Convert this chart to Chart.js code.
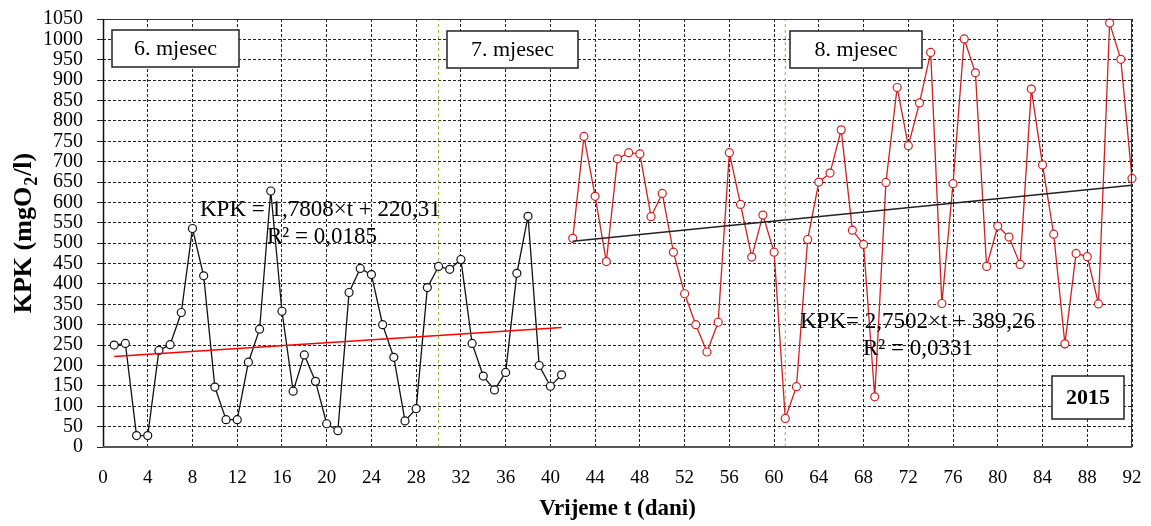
<!DOCTYPE html>
<html><head><meta charset="utf-8">
<script src="https://cdn.jsdelivr.net/npm/chart.js@4.4.1/dist/chart.umd.min.js"></script>
<style>html,body{margin:0;padding:0;background:#fff;} #wrap{width:1151px;height:526px;position:relative;}</style>
</head><body><div id="wrap"><canvas id="c"></canvas></div>
<script>
// ---- data ----
const days1 = [1,2,3,4,5,6,7,8,9,10,11,12,13,14,15,16,17,18,19,20,21,22,23,24,25,26,27,28,29,30,31,32,33,34,35,36,37,38,39,40,41];
const kpk1  = [250,254,28,28,237,251,330,536,420,147,67,67,208,289,628,333,137,226,161,57,40,379,438,423,300,220,64,94,391,443,436,460,254,174,140,183,426,566,200,149,177];
const days2 = [42,43,44,45,46,47,48,49,50,51,52,53,54,55,56,57,58,59,60,61,62,63,64,65,66,67,68,69,70,71,72,73,74,75,76,77,78,79,80,81,82,83,84,85,86,87,88,89,90,91,92];
const kpk2  = [512,762,615,455,707,722,719,565,622,478,376,300,233,306,722,595,466,569,478,70,148,509,650,672,778,532,497,123,649,882,739,844,968,352,646,1001,918,443,542,515,448,878,692,522,253,475,467,351,1040,951,659];
const trend1Coef = [1.7808, 220.31];   // slope, intercept (from chart equation)
const trend2Coef = [2.7502, 389.26];
const trend1Days = [1, 41];
const trend2Days = [42, 92];
const monthBoundaries = [30, 61];
const xRange = [0, 92, 4];
const yRange = [0, 1050, 50];
const monthLabels = ['6. mjesec', '7. mjesec', '8. mjesec'];
const eq1 = ['KPK = 1,7808×t + 220,31', 'R² = 0,0185'];
const eq2 = ['KPK= 2,7502×t + 389,26', 'R² = 0,0331'];
const yearLabel = '2015';
const xTitle = 'Vrijeme t (dani)';
const yTitleParts = ['KPK (mgO', '2', '/l)'];   // "KPK (mgO₂/l)" with subscript 2

const FAM = "'Liberation Serif','Times New Roman',serif";
const pts = (xs, ys) => xs.map((t, i) => ({x: t, y: ys[i]}));
const trendPts = (coef, d) => d.map(t => ({x: t, y: coef[0] * t + coef[1]}));

const overlay = {
  id: 'overlay',
  afterDraw(chart) {
    const ctx = chart.ctx, a = chart.chartArea;
    ctx.save();
    ctx.setLineDash([]);
    // frame
    ctx.strokeStyle = '#333'; ctx.lineWidth = 1;
    ctx.beginPath();
    ctx.moveTo(a.left, a.top + 0.5); ctx.lineTo(a.right, a.top + 0.5);
    ctx.moveTo(a.right - 0.5, a.top); ctx.lineTo(a.right - 0.5, a.bottom);
    ctx.stroke();
    ctx.strokeStyle = '#111'; ctx.lineWidth = 1.5;
    ctx.beginPath(); ctx.moveTo(a.left + 0.5, a.top); ctx.lineTo(a.left + 0.5, a.bottom); ctx.stroke();
    ctx.strokeStyle = '#555'; ctx.lineWidth = 2;
    ctx.beginPath(); ctx.moveTo(a.left, a.bottom); ctx.lineTo(a.right, a.bottom); ctx.stroke();

    function box(x1, y1, x2, y2, text, font) {
      ctx.fillStyle = '#fff';
      ctx.fillRect(x1, y1, x2 - x1, y2 - y1);
      ctx.strokeStyle = '#222'; ctx.lineWidth = 1.5;
      ctx.strokeRect(x1, y1, x2 - x1, y2 - y1);
      ctx.fillStyle = '#000'; ctx.font = font;
      ctx.textAlign = 'center'; ctx.textBaseline = 'middle';
      ctx.fillText(text, (x1 + x2) / 2, (y1 + y2) / 2 + 1);
    }
    const mf = '22px ' + FAM;
    box(112, 30, 239, 67, monthLabels[0], mf);
    box(447, 31, 578, 68, monthLabels[1], mf);
    box(790, 31, 922, 68, monthLabels[2], mf);
    box(1052, 376, 1124, 419, yearLabel, 'bold 22px ' + FAM);

    ctx.fillStyle = '#000'; ctx.font = '23px ' + FAM;
    ctx.textAlign = 'left'; ctx.textBaseline = 'alphabetic';
    ctx.fillText(eq1[0], 200, 216);
    ctx.fillText(eq1[1], 267, 243);
    ctx.fillText(eq2[0], 800, 328);
    ctx.fillText(eq2[1], 863, 355);

    // y-axis title with subscript, rotated
    const big = 'bold 26px ' + FAM, small = 'bold 18px ' + FAM;
    ctx.font = big; const w1 = ctx.measureText(yTitleParts[0]).width, w3 = ctx.measureText(yTitleParts[2]).width;
    ctx.font = small; const w2 = ctx.measureText(yTitleParts[1]).width;
    const total = w1 + w2 + 2 + w3;
    ctx.translate(31, (a.top + a.bottom) / 2);
    ctx.rotate(-Math.PI / 2);
    let x = -total / 2;
    ctx.textAlign = 'left'; ctx.textBaseline = 'alphabetic';
    ctx.font = big; ctx.fillText(yTitleParts[0], x, 0); x += w1;
    ctx.font = small; ctx.fillText(yTitleParts[1], x + 1, 6); x += w2 + 2;
    ctx.font = big; ctx.fillText(yTitleParts[2], x, 0);
    ctx.restore();
  }
};

new Chart(document.getElementById('c'), {
  type: 'line',
  data: {
    datasets: [
      {data: trendPts(trend1Coef, trend1Days), borderColor: '#ff0000', borderWidth: 1.5, pointRadius: 0},
      {data: trendPts(trend2Coef, trend2Days), borderColor: '#222', borderWidth: 1.5, pointRadius: 0},
      {data: pts(days1, kpk1), borderColor: '#111', borderWidth: 1.3, pointRadius: 4,
       pointBackgroundColor: '#fff', pointBorderColor: '#111', pointBorderWidth: 1.2, clip: false},
      {data: pts(days2, kpk2), borderColor: '#d22020', borderWidth: 1.3, pointRadius: 4,
       pointBackgroundColor: '#fff', pointBorderColor: '#d22020', pointBorderWidth: 1.2, clip: false},
      {data: [{x: monthBoundaries[0], y: yRange[0]}, {x: monthBoundaries[0], y: yRange[1]}],
       borderColor: '#8fb83a', borderWidth: 1, borderDash: [3, 3], pointRadius: 0},
      {data: [{x: monthBoundaries[1], y: yRange[0]}, {x: monthBoundaries[1], y: yRange[1]}],
       borderColor: '#8fb83a', borderWidth: 1, borderDash: [3, 3], pointRadius: 0}
    ]
  },
  options: {
    responsive: true, maintainAspectRatio: false, animation: false,
    layout: {padding: {left: 0, right: 19, top: 19, bottom: 0}},
    plugins: {legend: {display: false}, tooltip: {enabled: false}},
    scales: {
      x: {
        type: 'linear', min: xRange[0], max: xRange[1],
        ticks: {stepSize: xRange[2], autoSkip: false, maxRotation: 0, padding: 20, color: '#000',
                font: {family: FAM, size: 19}, callback: v => String(v)},
        grid: {color: '#222', lineWidth: 1, drawTicks: false},
        border: {display: false, dash: [3, 2]},
        title: {display: true, text: xTitle, color: '#000',
                font: {family: FAM, size: 23, weight: 'bold'}, padding: {top: 0, bottom: 3}},
        afterFit(s) { s.height = 79; s.paddingLeft = 0; s.paddingRight = 0; }
      },
      y: {
        type: 'linear', min: yRange[0], max: yRange[1],
        ticks: {stepSize: yRange[2], autoSkip: false, padding: 14, color: '#000',
                font: {family: FAM, size: 20, lineHeight: 1}, callback: v => String(v)},
        grid: {color: '#222', lineWidth: 1, drawTicks: true, tickLength: 6, tickColor: '#222', tickBorderDash: []},
        border: {display: false, dash: [3, 2]},
        title: {display: false},
        afterFit(s) { s.width = 103; s.paddingTop = 0; s.paddingBottom = 0; }
      }
    }
  },
  plugins: [overlay]
});
</script></body></html>
